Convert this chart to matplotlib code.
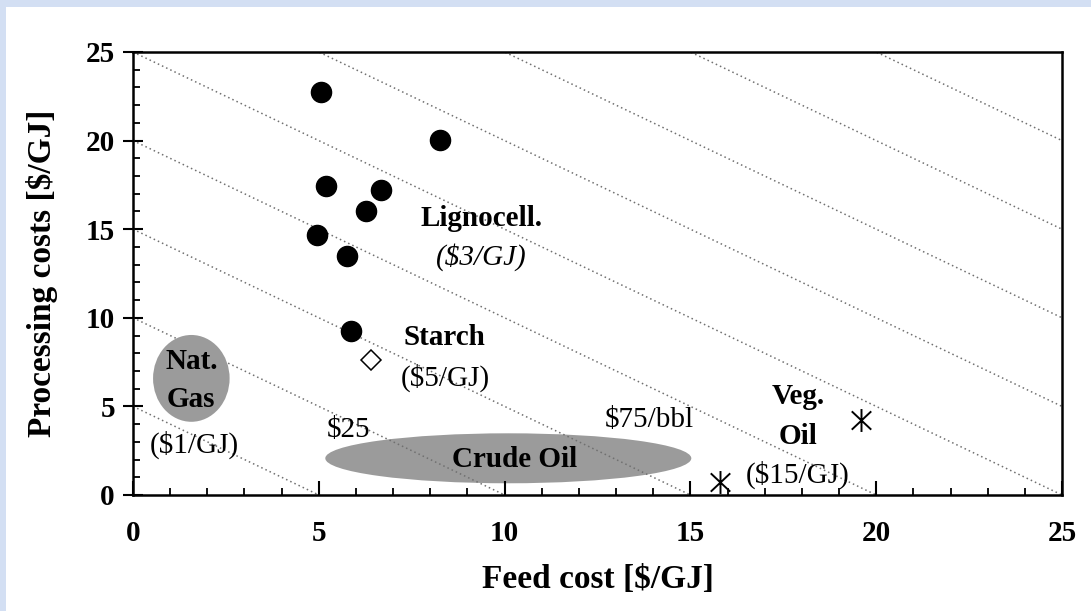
import numpy as np
import matplotlib.pyplot as plt
from matplotlib.patches import Ellipse, Rectangle
from matplotlib.path import Path

plt.rcParams['font.family'] = ['Liberation Serif', 'DejaVu Serif']

# Feedstock data points [$/GJ]
ligno_feed = [5.07, 8.27, 5.19, 6.68, 6.27, 4.95, 5.76, 5.87]
ligno_proc = [22.74, 20.03, 17.46, 17.21, 16.01, 14.67, 13.49, 9.27]
starch_feed = [6.40]
starch_proc = [7.62]
vegoil_feed = [19.6, 15.81]
vegoil_proc = [4.23, 0.75]

# iso-cost lines x + y = c
iso_costs = [5, 10, 15, 20, 25, 30, 35, 40, 45]

# shaded regions: (center x, center y, width, height)
natgas_region = (1.57, 6.58, 2.06, 4.9)
crude_region = (10.1, 2.07, 9.85, 2.82)

fig = plt.figure(figsize=(10.91, 6.11), dpi=100)
fig.patch.set_facecolor('#d3dff3')
fig.patches.append(Rectangle((6 / 1091, 0), 1, 1 - 7 / 611, transform=fig.transFigure,
                             facecolor='white', edgecolor='none', zorder=-10))

ax = fig.add_axes([0.1219, 0.1899, 0.8515, 0.7250])
ax.set_facecolor('white')

xs = np.array([0, 25])
for c in iso_costs:
    ax.plot(xs, c - xs, linestyle=(0, (1, 2)), color='#707070', lw=1.1, zorder=2)

ax.add_patch(Ellipse(crude_region[:2], crude_region[2], crude_region[3],
                     facecolor='#9b9b9b', edgecolor='none', zorder=1))
ax.add_patch(Ellipse(natgas_region[:2], natgas_region[2], natgas_region[3],
                     facecolor='#9b9b9b', edgecolor='none', zorder=3))

# asterisk: vertical bar plus an X
star = Path([(0, -1), (0, 1), (-0.85, -0.8), (0.85, 0.8), (-0.85, 0.8), (0.85, -0.8)],
            [Path.MOVETO, Path.LINETO, Path.MOVETO, Path.LINETO, Path.MOVETO, Path.LINETO])

ax.plot(ligno_feed, ligno_proc, 'o', color='black', ms=14.5, zorder=4)
ax.plot(starch_feed, starch_proc, 'D', mfc='white', mec='black', mew=1.1, ms=10.5, zorder=4)
ax.plot(vegoil_feed, vegoil_proc, marker=star, ls='none', mfc='none', mec='black',
        ms=16.5, mew=1.4, zorder=4)

fs = 21
ax.text(9.37, 15.6, 'Lignocell.', fontsize=fs, fontweight='bold', ha='center', va='center', zorder=5)
ax.text(9.37, 13.4, '($3/GJ)', fontsize=fs, style='italic', ha='center', va='center', zorder=5)
ax.text(8.39, 8.86, 'Starch', fontsize=fs, fontweight='bold', ha='center', va='center', zorder=5)
ax.text(8.41, 6.6, '($5/GJ)', fontsize=fs, ha='center', va='center', zorder=5)
ax.text(1.57, 7.52, 'Nat.', fontsize=fs, fontweight='bold', ha='center', va='center', zorder=5)
ax.text(1.57, 5.36, 'Gas', fontsize=fs, fontweight='bold', ha='center', va='center', zorder=5)
ax.text(1.66, 2.82, '($1/GJ)', fontsize=fs, ha='center', va='center', zorder=5)
ax.text(5.79, 3.67, '$25', fontsize=fs, ha='center', va='center', zorder=5)
ax.text(10.28, 1.98, 'Crude Oil', fontsize=fs, fontweight='bold', ha='center', va='center', zorder=5)
ax.text(13.9, 4.23, '$75/bbl', fontsize=fs, ha='center', va='center', zorder=5)
ax.text(17.9, 5.55, 'Veg.', fontsize=fs, fontweight='bold', ha='center', va='center', zorder=5)
ax.text(17.9, 3.29, 'Oil', fontsize=fs, fontweight='bold', ha='center', va='center', zorder=5)
ax.text(17.89, 1.13, '($15/GJ)', fontsize=fs, ha='center', va='center', zorder=5)

ax.set_xlim(0, 25)
ax.set_ylim(0, 25)
ax.set_xticks([0, 5, 10, 15, 20, 25])
ax.set_yticks([0, 5, 10, 15, 20, 25])
ax.set_xticks(np.arange(0, 26, 1), minor=True)
ax.set_yticks(np.arange(0, 26, 1), minor=True)
ax.tick_params(axis='x', which='major', direction='in', length=10, width=1.5,
               labelsize=fs, pad=18)
ax.tick_params(axis='y', which='major', direction='inout', length=14, width=1.5,
               labelsize=fs, pad=6)
ax.tick_params(which='minor', direction='in', length=5, width=1.3)
for lab in ax.get_xticklabels() + ax.get_yticklabels():
    lab.set_fontweight('bold')
for sp in ax.spines.values():
    sp.set_linewidth(1.8)

ax.set_xlabel('Feed cost [$/GJ]', fontsize=24, fontweight='bold', labelpad=12)
ax.set_ylabel('Processing costs [$/GJ]', fontsize=24, fontweight='bold', labelpad=20)

fig.savefig('out.png', dpi=100, facecolor=fig.get_facecolor())
